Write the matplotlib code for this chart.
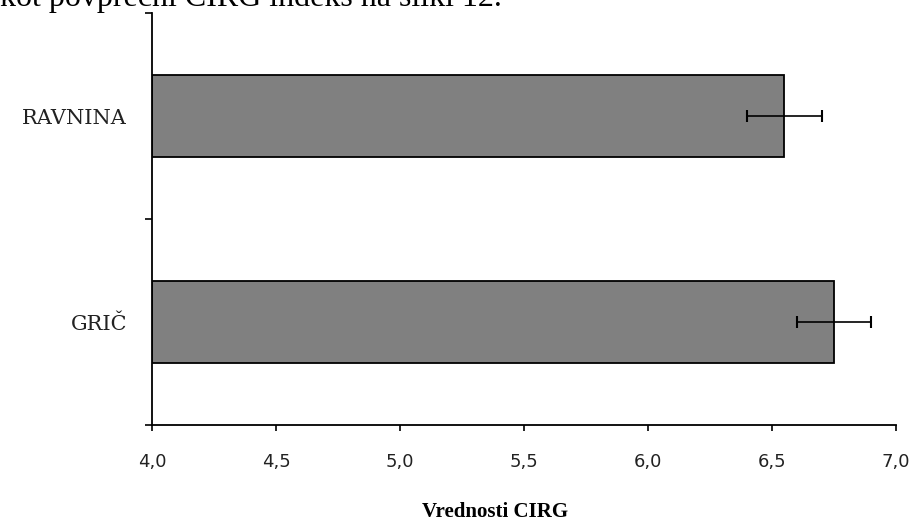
import numpy as np
import matplotlib
matplotlib.use("Agg")
import matplotlib.pyplot as plt

# CIRG values per terrain type (mean and error)
categories = ["GRIČ", "RAVNINA"]
means = [6.75, 6.55]
errors = [0.15, 0.15]
xticks = [4.0, 4.5, 5.0, 5.5, 6.0, 6.5, 7.0]
xtick_labels = ["4,0", "4,5", "5,0", "5,5", "6,0", "6,5", "7,0"]

fig = plt.figure(figsize=(9.12, 5.24), dpi=100)
ax = fig.add_axes([152 / 912, 1 - 425 / 524, (896 - 152) / 912, (425 - 13) / 524])

ypos = np.arange(len(categories))
ax.barh(ypos, [m - 4.0 for m in means], left=4.0, height=0.40,
        color="#808080", edgecolor="black", linewidth=1.3, zorder=2)
ax.errorbar(means, ypos, xerr=errors, fmt="none", ecolor="black",
            elinewidth=1.2, capsize=4, capthick=1.5, zorder=3)

ax.set_xlim(4.0, 7.0)
ax.set_ylim(-0.5, 1.5)
ax.set_xticks(xticks)
ax.set_xticklabels(xtick_labels, fontsize=13, family="DejaVu Sans", color="#222222")
ax.tick_params(axis="x", direction="out", length=4, width=1.2, pad=16)

# category labels without ticks, boundary ticks between categories
ax.set_yticks(ypos)
ax.set_yticklabels(categories, fontsize=15, family="DejaVu Serif", color="#222222")
ax.tick_params(axis="y", which="major", length=0, pad=18)
ax.set_yticks([-0.5, 0.5, 1.5], minor=True)
ax.tick_params(axis="y", which="minor", direction="out", length=5, width=1.2)

for side in ["top", "right"]:
    ax.spines[side].set_visible(False)
for side in ["left", "bottom"]:
    ax.spines[side].set_linewidth(1.3)

fig.text(495 / 912, 1 - 512 / 524, "Vrednosti CIRG", ha="center", va="center",
         fontsize=15, fontweight="bold", family="Liberation Serif")

fig.text(0.0, 1 - 6 / 524, "kot povprečni CIRG indeks na sliki 12.", ha="left",
         va="baseline", fontsize=23, family="Liberation Serif")

fig.savefig("out.png", dpi=100, facecolor="white")
